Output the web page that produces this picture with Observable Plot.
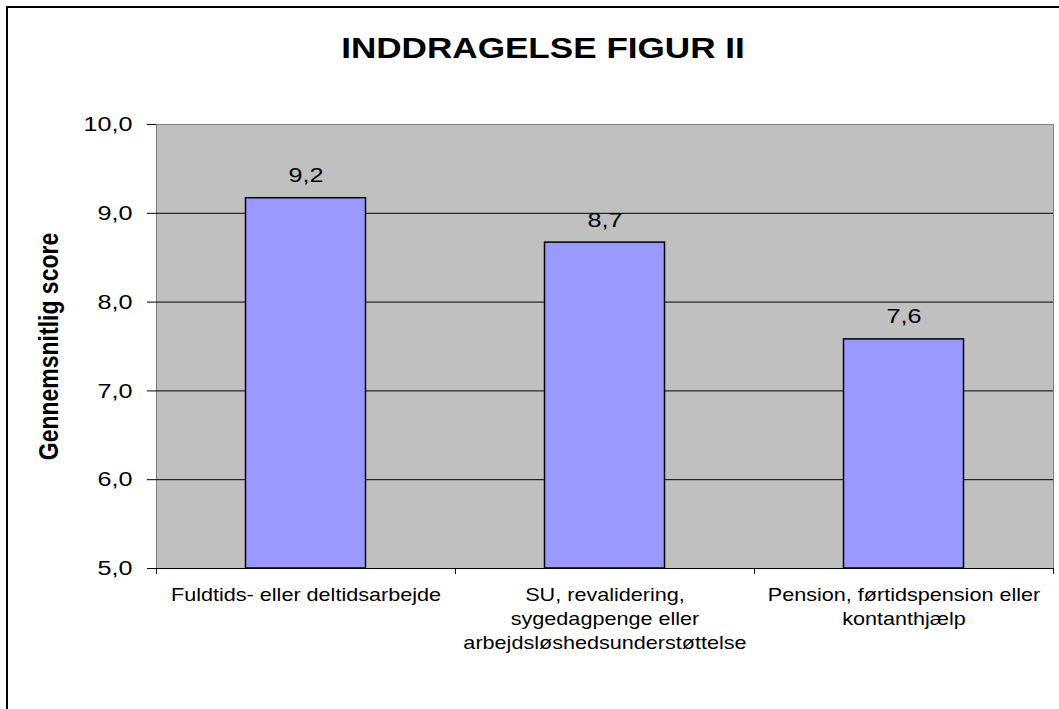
<!DOCTYPE html>
<html><head><meta charset="utf-8">
<script src="https://cdn.jsdelivr.net/npm/d3@7"></script>
<script src="https://cdn.jsdelivr.net/npm/@observablehq/plot@0.6"></script>
<style>
html,body{margin:0;padding:0;background:#fff;overflow:hidden;width:1059px;height:709px;}
#frame{position:absolute;left:6px;top:6px;width:1090px;height:720px;border-left:2px solid #000;border-top:2px solid #000;box-sizing:border-box;}
#title{position:absolute;left:6px;width:1074px;top:33px;line-height:30px;text-align:center;font-family:"Liberation Sans",Arial,sans-serif;font-weight:bold;font-size:30px;color:#000;transform:scaleX(1.17);transform-origin:center;}
#chart{position:absolute;left:0;top:80px;}
</style></head>
<body>
<div id="frame"></div>
<div id="title"></div>
<div id="chart"></div>
<script>
const title = "INDDRAGELSE FIGUR II";
const categories = ["Fuldtids- eller deltidsarbejde", "SU, revalidering,\nsygedagpenge eller\narbejdsløshedsunderstøttelse", "Pension, førtidspension eller\nkontanthjælp"];
const scores = [9.17, 8.67, 7.58];
const valueLabels = ["9,2", "8,7", "7,6"];
const yTicks = [5, 6, 7, 8, 9, 10];
const yLabel = "Gennemsnitlig score";

document.getElementById("title").textContent = title;
const data = categories.map((c, i) => ({cat: c, i, score: scores[i], label: valueLabels[i]}));
const fmt = d => d.toFixed(1).replace(".", ",");

const chart = Plot.plot({
  width: 1059, height: 629,
  marginLeft: 156, marginRight: 6, marginTop: 44, marginBottom: 141,
  style: {fontFamily: "'Liberation Sans', Arial, sans-serif", background: "transparent", color: "#000", overflow: "visible"},
  x: {domain: [0, categories.length], axis: null},
  y: {domain: [yTicks[0], yTicks[yTicks.length - 1]], axis: null},
  marks: [
    Plot.frame({fill: "#c0c0c0", stroke: "#808080"}),
    Plot.gridY(yTicks.filter(v => v > yTicks[0] && v < yTicks[yTicks.length - 1]), {stroke: "#000", strokeOpacity: 1}),
    Plot.rectY(data, {x1: d => d.i, x2: d => d.i + 1, y1: yTicks[0], y2: "score", insetLeft: 89.5, insetRight: 89.5, fill: "#9999ff", stroke: "#000", strokeWidth: 1.5}),
    Plot.ruleY([yTicks[0]], {stroke: "#000"}),
    Plot.axisY(yTicks, {tickFormat: fmt, tickSize: 9, tickPadding: 15, fontSize: 21, label: null, stroke: "#000"}),
    Plot.axisX(d3.range(0, categories.length + 1), {tickSize: 6, tickFormat: () => "", label: null, stroke: "#000"}),
    Plot.text(data, {x: d => d.i + 0.5, y: "score", text: "label", lineAnchor: "bottom", dy: -16, fontSize: 21}),
    Plot.text(data, {x: d => d.i + 0.5, frameAnchor: "bottom", text: "cat", lineAnchor: "top", dy: 15, fontSize: 18, lineHeight: 1.34}),
    Plot.text([yLabel], {frameAnchor: "left", textAnchor: "middle", rotate: -90, dx: -107, fontWeight: "bold", fontSize: 23})
  ]
});
// the reference's text is horizontally widened; stretch each label about its own anchor
chart.querySelectorAll("text").forEach(t => {
  const tr = t.getAttribute("transform");
  if (!tr) return;
  t.setAttribute("transform", tr + (tr.includes("rotate") ? " scale(1,1.2)" : " scale(1.2,1)"));
});
document.getElementById("chart").appendChild(chart);
</script>
</body></html>
